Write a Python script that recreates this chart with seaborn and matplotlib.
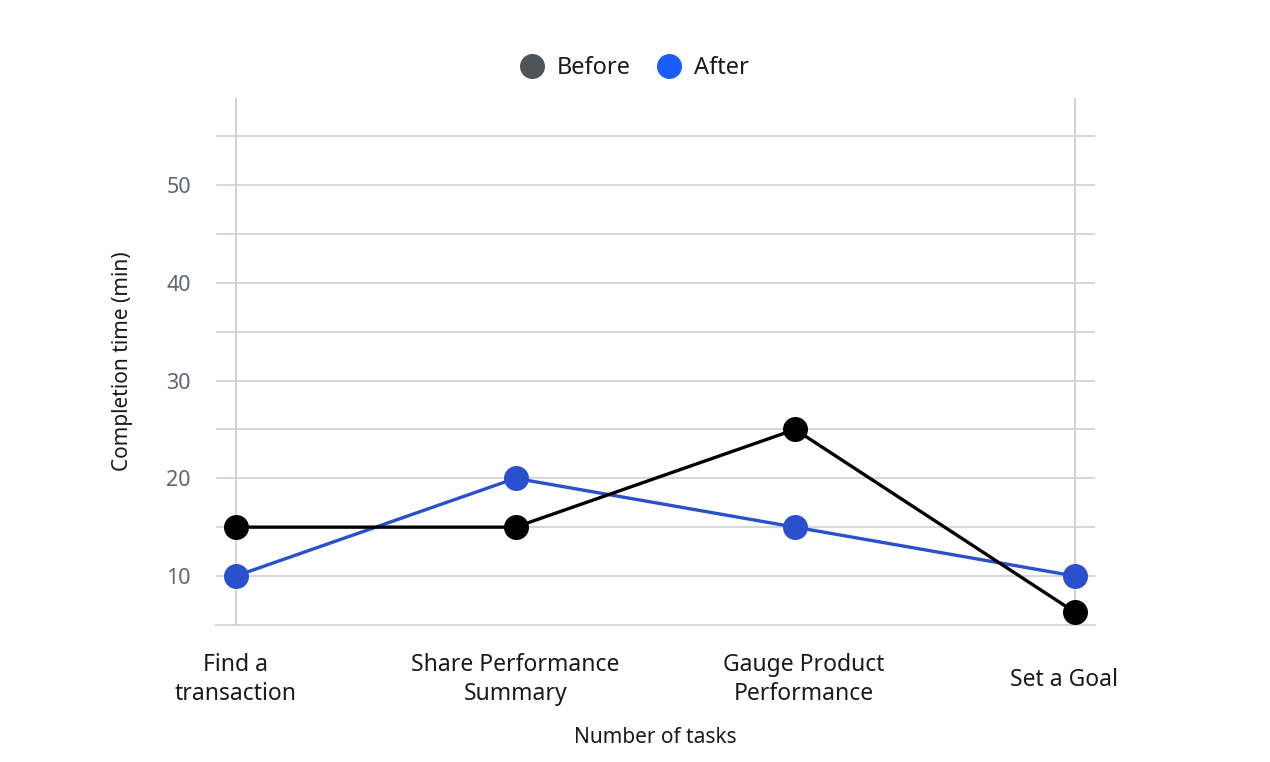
import pandas as pd
import numpy as np
import matplotlib.pyplot as plt
import matplotlib.transforms as mtransforms
import seaborn as sns
from matplotlib.lines import Line2D

# datos
tasks = ["Find a\ntransaction", "Share Performance\nSummary",
         "Gauge Product\nPerformance", "Set a Goal"]
before = [15, 15, 25, 6.3]
after = [10, 20, 15, 10]
y_labeled = [10, 20, 30, 40, 50]
y_grid_minor = [15, 25, 35, 45, 55]

df = pd.DataFrame({
    "task": list(range(len(tasks))) * 2,
    "time": after + before,
    "phase": ["After"] * len(after) + ["Before"] * len(before),
})

sns.set_theme(style="white")
plt.rcParams["font.family"] = ["Noto Sans", "DejaVu Sans"]

fig = plt.figure(figsize=(12.7, 7.62), dpi=100)
ax = fig.add_axes([0.170, 0.180, 0.692, 0.691])

line_colors = {"Before": "#000000", "After": "#2a50cc"}
sns.lineplot(data=df, x="task", y="time", hue="phase",
             hue_order=["After", "Before"], palette=line_colors,
             marker="o", markersize=18, markeredgewidth=0,
             linewidth=2.4, legend=False, ax=ax, zorder=3)

grid_c = "#d2d3d8"
ax.set_xlim(-0.0715, len(tasks) - 1 + 0.0715)
ax.set_ylim(5, 58.9)
ax.set_yticks(y_labeled)
ax.set_yticks(y_grid_minor, minor=True)
ax.yaxis.grid(True, which="both", color=grid_c, linewidth=1.3)
ax.axvline(0, color=grid_c, linewidth=1.5, zorder=1)
ax.axvline(len(tasks) - 1, color=grid_c, linewidth=1.5, zorder=1)

ax.set_xticks(range(len(tasks)))
ax.set_xticklabels(tasks, fontsize=16.5, color="#1a1a1a", linespacing=1.3)
ax.tick_params(axis="y", which="both", length=0, labelsize=15.5,
               labelcolor="#5f6570", pad=18)
ax.tick_params(axis="x", length=0, pad=20)

# ajustes finos de posicion de algunas etiquetas
offsets = {2: (0.09, 0.0), 3: (-0.11, -0.15)}
for i, (dx, dy) in offsets.items():
    lbl = ax.get_xticklabels()[i]
    lbl.set_transform(lbl.get_transform() +
                      mtransforms.ScaledTranslation(dx, dy, fig.dpi_scale_trans))

for s in ["top", "right", "left"]:
    ax.spines[s].set_visible(False)
ax.spines["bottom"].set_color(grid_c)
ax.spines["bottom"].set_linewidth(1.3)

ax.set_xlabel("Number of tasks", fontsize=15, color="#1a1a1a", labelpad=15)
ax.set_ylabel("Completion time (min)", fontsize=15, color="#1a1a1a", labelpad=24)

handles = [
    Line2D([], [], marker="o", linestyle="", markersize=18,
           markerfacecolor="#4f5458", markeredgewidth=0, label="Before"),
    Line2D([], [], marker="o", linestyle="", markersize=18,
           markerfacecolor="#1a5cff", markeredgewidth=0, label="After"),
]
fig.legend(handles=handles, loc="center", bbox_to_anchor=(0.495, 0.911),
           ncol=2, frameon=False, fontsize=17, handletextpad=0.05,
           columnspacing=0.6, labelcolor="#1a1a1a")

fig.savefig("out.png", dpi=100)
